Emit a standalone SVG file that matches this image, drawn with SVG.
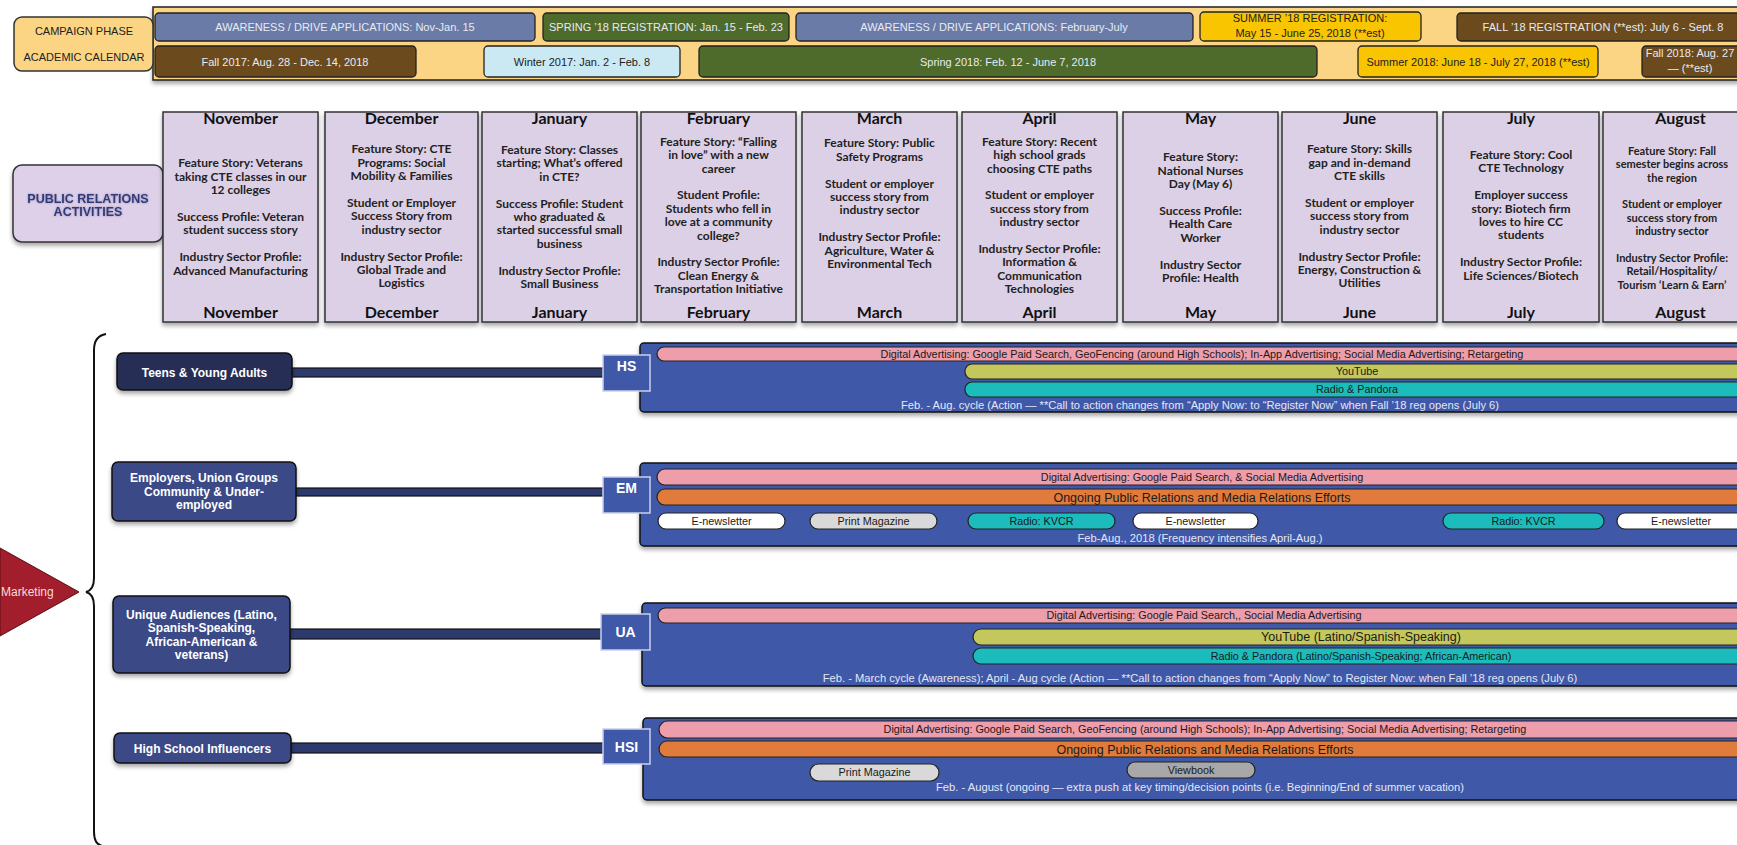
<svg xmlns="http://www.w3.org/2000/svg" width="1737" height="845" viewBox="0 0 1737 845">
<defs>
<filter id="sh" x="-5%" y="-20%" width="110%" height="150%"><feDropShadow dx="0" dy="3" stdDeviation="2" flood-color="#000" flood-opacity="0.35"/></filter>
<filter id="glow" x="-10%" y="-50%" width="120%" height="200%"><feDropShadow dx="0" dy="0" stdDeviation="1.2" flood-color="#8a7fb0" flood-opacity="0.9"/></filter>
<style>
text{font-family:'Liberation Sans',Arial,sans-serif;text-anchor:middle}
.band{font-size:11px}
.lt{fill:#e8eaf2}
.dk{fill:#222}
.ph{stroke:#222;stroke-width:1.3}
.mon{fill:#dcd0e6;stroke:#333;stroke-width:1.5}
.mt{font-family:Lato,'Liberation Sans',sans-serif;font-weight:700;font-size:16px;fill:#111}
.mb{font-family:Lato,'Liberation Sans',sans-serif;font-weight:700;font-size:12px;fill:#222}
.aud{stroke:#111;stroke-width:1.5}
.at{font-weight:700;font-size:12px;fill:#fff}
.tag{fill:#3f58a8;stroke:#c9d0ea;stroke-width:1.5}
.tt{font-weight:700;font-size:14px;fill:#fff}
.panel{fill:#3f58a8;stroke:#111;stroke-width:1.5}
.pk{fill:#ee9dab;stroke:#222;stroke-width:1.2}
.ol{fill:#c3c75c;stroke:#222;stroke-width:1.2}
.tl{fill:#1cbcbc;stroke:#222;stroke-width:1.2}
.or{fill:#e07b3b;stroke:#222;stroke-width:1.2}
.wh{fill:#fff;stroke:#222;stroke-width:1.2}
.gr{fill:#d9d9d9;stroke:#222;stroke-width:1.2}
.gr2{fill:#a8a8a8;stroke:#222;stroke-width:1.2}
.bt{font-size:10.8px;fill:#1a1a1a}
.ot{font-size:12.5px;fill:#1a1a1a}
.ft{font-size:11.2px;fill:#e3e7f5}
.conn{fill:#2d3a6e;stroke:#111;stroke-width:1.2}
</style>
</defs>
<rect width="1737" height="845" fill="#fff"/>

<g id="calendar-band">
<rect x="153" y="7" width="1600" height="73" fill="#fbd584" stroke="#222" stroke-width="1.5" filter="url(#sh)"/>
</g>
<g id="label-campaign">
<rect x="14" y="17" width="139" height="54" rx="8" fill="#fbd584" stroke="#333" stroke-width="1.5"/>
<text class="band dk" x="84" y="35">CAMPAIGN PHASE</text>
<text class="band dk" x="84" y="61">ACADEMIC CALENDAR</text>
</g>
<g id="phase-awareness1"><rect class="ph" x="155" y="13" width="380" height="28" rx="4" fill="#6a7ba8"/><text class="band lt" x="345" y="31">AWARENESS / DRIVE APPLICATIONS: Nov-Jan. 15</text></g>
<g id="phase-spring-reg"><rect class="ph" x="543" y="13" width="246" height="28" rx="4" fill="#4e6b2b"/><text class="band lt" x="666" y="31">SPRING ’18 REGISTRATION:  Jan. 15 - Feb. 23</text></g>
<g id="phase-awareness2"><rect class="ph" x="796" y="13" width="397" height="28" rx="4" fill="#6a7ba8"/><text class="band lt" x="994" y="31">AWARENESS / DRIVE APPLICATIONS: February-July</text></g>
<g id="phase-summer-reg"><rect class="ph" x="1200" y="12" width="221" height="29" rx="4" fill="#f9c400"/><text class="band dk" x="1310" y="22">SUMMER ’18 REGISTRATION:</text><text class="band dk" x="1310" y="37">May 15 - June 25, 2018 (**est)</text></g>
<g id="phase-fall-reg"><rect class="ph" x="1457" y="13" width="300" height="28" rx="4" fill="#6b4a1d"/><text class="band lt" x="1603" y="31">FALL ’18 REGISTRATION (**est): July 6  - Sept. 8</text></g>
<g id="cal-fall2017"><rect class="ph" x="155" y="46" width="261" height="31" rx="4" fill="#6b4a1d"/><text class="band lt" x="285" y="65.5">Fall 2017:  Aug. 28 - Dec. 14, 2018</text></g>
<g id="cal-winter2017"><rect class="ph" x="484" y="46" width="196" height="31" rx="4" fill="#cbe9f3"/><text class="band dk" x="582" y="65.5">Winter 2017:  Jan. 2 - Feb. 8</text></g>
<g id="cal-spring2018"><rect class="ph" x="699" y="46" width="618" height="31" rx="4" fill="#4e6b2b"/><text class="band lt" x="1008" y="65.5">Spring 2018: Feb. 12 - June 7, 2018</text></g>
<g id="cal-summer2018"><rect class="ph" x="1358" y="46" width="240" height="31" rx="4" fill="#f9c400"/><text class="band dk" x="1478" y="65.5">Summer  2018: June 18 - July 27, 2018 (**est)</text></g>
<g id="cal-fall2018"><rect class="ph" x="1642" y="46" width="120" height="31" rx="4" fill="#6b4a1d"/><text class="band lt" x="1690" y="57">Fall 2018: Aug. 27</text><text class="band lt" x="1690" y="72">— (**est)</text></g>

<g id="pr-activities">
<rect x="13" y="165" width="150" height="77" rx="9" fill="#ddd0e8" stroke="#333" stroke-width="1.5" filter="url(#sh)"/>
<g filter="url(#glow)">
<text x="88" y="202.5" font-weight="700" font-size="12.5" fill="#2e3a78">PUBLIC RELATIONS</text>
<text x="88" y="215.5" font-weight="700" font-size="12.5" fill="#2e3a78">ACTIVITIES</text>
</g>
</g>

<g id="month-nov"><rect class="mon" x="163" y="112" width="155" height="210" filter="url(#sh)"/><text class="mt" x="240.5" y="124">November</text><text class="mt" x="240.5" y="318">November</text>
<text class="mb" y="167.3"><tspan x="240.5">Feature Story:  Veterans</tspan><tspan x="240.5" dy="13.4">taking CTE classes in our</tspan><tspan x="240.5" dy="13.4">12 colleges</tspan><tspan x="240.5" dy="26.8">Success Profile:  Veteran</tspan><tspan x="240.5" dy="13.4">student success story</tspan><tspan x="240.5" dy="26.8">Industry Sector Profile:</tspan><tspan x="240.5" dy="13.4">Advanced Manufacturing</tspan></text></g>
<g id="month-dec"><rect class="mon" x="325" y="112" width="153" height="210" filter="url(#sh)"/><text class="mt" x="401.5" y="124">December</text><text class="mt" x="401.5" y="318">December</text>
<text class="mb" y="153.3"><tspan x="401.5">Feature Story:  CTE</tspan><tspan x="401.5" dy="13.4">Programs: Social</tspan><tspan x="401.5" dy="13.4">Mobility &amp; Families</tspan><tspan x="401.5" dy="26.8">Student or Employer</tspan><tspan x="401.5" dy="13.4">Success Story from</tspan><tspan x="401.5" dy="13.4">industry sector</tspan><tspan x="401.5" dy="26.8">Industry Sector Profile:</tspan><tspan x="401.5" dy="13.4">Global Trade and</tspan><tspan x="401.5" dy="13.4">Logistics</tspan></text></g>
<g id="month-jan"><rect class="mon" x="482" y="112" width="155" height="210" filter="url(#sh)"/><text class="mt" x="559.5" y="124">January</text><text class="mt" x="559.5" y="318">January</text>
<text class="mb" y="154"><tspan x="559.5">Feature Story: Classes</tspan><tspan x="559.5" dy="13.4">starting; What’s offered</tspan><tspan x="559.5" dy="13.4">in CTE?</tspan><tspan x="559.5" dy="26.8">Success Profile:  Student</tspan><tspan x="559.5" dy="13.4">who graduated &amp;</tspan><tspan x="559.5" dy="13.4">started successful small</tspan><tspan x="559.5" dy="13.4">business</tspan><tspan x="559.5" dy="26.8">Industry Sector Profile:</tspan><tspan x="559.5" dy="13.4">Small Business</tspan></text></g>
<g id="month-feb"><rect class="mon" x="641" y="112" width="155" height="210" filter="url(#sh)"/><text class="mt" x="718.5" y="124">February</text><text class="mt" x="718.5" y="318">February</text>
<text class="mb" y="145.7"><tspan x="718.5">Feature Story: “Falling</tspan><tspan x="718.5" dy="13.4">in love” with a new</tspan><tspan x="718.5" dy="13.4">career</tspan><tspan x="718.5" dy="26.8">Student Profile:</tspan><tspan x="718.5" dy="13.4">Students who fell in</tspan><tspan x="718.5" dy="13.4">love at a community</tspan><tspan x="718.5" dy="13.4">college?</tspan><tspan x="718.5" dy="26.8">Industry Sector Profile:</tspan><tspan x="718.5" dy="13.4">Clean Energy &amp;</tspan><tspan x="718.5" dy="13.4">Transportation Initiative</tspan></text></g>
<g id="month-mar"><rect class="mon" x="802" y="112" width="155" height="210" filter="url(#sh)"/><text class="mt" x="879.5" y="124">March</text><text class="mt" x="879.5" y="318">March</text>
<text class="mb" y="147.3"><tspan x="879.5">Feature Story:  Public</tspan><tspan x="879.5" dy="13.4">Safety Programs</tspan><tspan x="879.5" dy="26.8">Student or employer</tspan><tspan x="879.5" dy="13.4">success story from</tspan><tspan x="879.5" dy="13.4">industry sector</tspan><tspan x="879.5" dy="26.8">Industry Sector Profile:</tspan><tspan x="879.5" dy="13.4">Agriculture, Water &amp;</tspan><tspan x="879.5" dy="13.4">Environmental Tech</tspan></text></g>
<g id="month-apr"><rect class="mon" x="962" y="112" width="155" height="210" filter="url(#sh)"/><text class="mt" x="1039.5" y="124">April</text><text class="mt" x="1039.5" y="318">April</text>
<text class="mb" y="145.7"><tspan x="1039.5">Feature Story:  Recent</tspan><tspan x="1039.5" dy="13.4">high school grads</tspan><tspan x="1039.5" dy="13.4">choosing CTE paths</tspan><tspan x="1039.5" dy="26.8">Student or employer</tspan><tspan x="1039.5" dy="13.4">success story from</tspan><tspan x="1039.5" dy="13.4">industry sector</tspan><tspan x="1039.5" dy="26.8">Industry Sector Profile:</tspan><tspan x="1039.5" dy="13.4">Information &amp;</tspan><tspan x="1039.5" dy="13.4">Communication</tspan><tspan x="1039.5" dy="13.4">Technologies</tspan></text></g>
<g id="month-may"><rect class="mon" x="1123" y="112" width="155" height="210" filter="url(#sh)"/><text class="mt" x="1200.5" y="124">May</text><text class="mt" x="1200.5" y="318">May</text>
<text class="mb" y="161.3"><tspan x="1200.5">Feature Story:</tspan><tspan x="1200.5" dy="13.4">National Nurses</tspan><tspan x="1200.5" dy="13.4">Day (May 6)</tspan><tspan x="1200.5" dy="26.8">Success Profile:</tspan><tspan x="1200.5" dy="13.4">Health Care</tspan><tspan x="1200.5" dy="13.4">Worker</tspan><tspan x="1200.5" dy="26.8">Industry Sector</tspan><tspan x="1200.5" dy="13.4">Profile:  Health</tspan></text></g>
<g id="month-jun"><rect class="mon" x="1282" y="112" width="155" height="210" filter="url(#sh)"/><text class="mt" x="1359.5" y="124">June</text><text class="mt" x="1359.5" y="318">June</text>
<text class="mb" y="153.3"><tspan x="1359.5">Feature Story:  Skills</tspan><tspan x="1359.5" dy="13.4">gap and in-demand</tspan><tspan x="1359.5" dy="13.4">CTE skills</tspan><tspan x="1359.5" dy="26.8">Student or employer</tspan><tspan x="1359.5" dy="13.4">success story from</tspan><tspan x="1359.5" dy="13.4">industry sector</tspan><tspan x="1359.5" dy="26.8">Industry Sector Profile:</tspan><tspan x="1359.5" dy="13.4">Energy, Construction &amp;</tspan><tspan x="1359.5" dy="13.4">Utilities</tspan></text></g>
<g id="month-jul"><rect class="mon" x="1443" y="112" width="156" height="210" filter="url(#sh)"/><text class="mt" x="1521" y="124">July</text><text class="mt" x="1521" y="318">July</text>
<text class="mb" y="159"><tspan x="1521">Feature Story: Cool</tspan><tspan x="1521" dy="13.4">CTE Technology</tspan><tspan x="1521" dy="26.8">Employer success</tspan><tspan x="1521" dy="13.4">story:  Biotech firm</tspan><tspan x="1521" dy="13.4">loves to hire CC</tspan><tspan x="1521" dy="13.4">students</tspan><tspan x="1521" dy="26.8">Industry Sector Profile:</tspan><tspan x="1521" dy="13.4">Life Sciences/Biotech</tspan></text></g>
<g id="month-aug"><rect class="mon" x="1603" y="112" width="155" height="210" filter="url(#sh)"/><text class="mt" x="1680.5" y="124">August</text><text class="mt" x="1680.5" y="318">August</text>
<text class="mb" y="154.7" style="font-size:11px"><tspan x="1672">Feature Story: Fall</tspan><tspan x="1672" dy="13.4">semester begins across</tspan><tspan x="1672" dy="13.4">the region</tspan><tspan x="1672" dy="26.8">Student or employer</tspan><tspan x="1672" dy="13.4">success story from</tspan><tspan x="1672" dy="13.4">industry sector</tspan><tspan x="1672" dy="26.8">Industry Sector Profile:</tspan><tspan x="1672" dy="13.4">Retail/Hospitality/</tspan><tspan x="1672" dy="13.4">Tourism ‘Learn &amp; Earn’</tspan></text></g>

<g id="marketing">
<polygon points="0,548 79,592 0,636" fill="#a31e2c" stroke="#5a0d14" stroke-width="1"/>
<text x="1" y="596" font-size="12" fill="#f5dada" style="text-anchor:start">Marketing</text>
</g>
<g id="brace">
<path d="M106,334 Q94,336 94,350 L94,578 Q94,590 86,592 Q94,594 94,606 L94,832 Q94,844 102,846" fill="none" stroke="#111" stroke-width="2"/>
</g>

<g id="connectors">
<rect class="conn" x="292" y="368" width="312" height="9" fill="#262f57"/>
<rect class="conn" x="296" y="488" width="308" height="8"/>
<rect class="conn" x="290" y="629" width="312" height="10"/>
<rect class="conn" x="291" y="743" width="313" height="10"/>
</g>

<g id="aud-teens"><rect class="aud" x="117" y="353" width="175" height="37" rx="6" fill="#262f57" filter="url(#sh)"/><text class="at" x="204.5" y="376.5">Teens &amp; Young Adults</text></g>
<g id="aud-employers"><rect class="aud" x="112" y="462" width="184" height="59" rx="6" fill="#3a4a87" filter="url(#sh)"/><text class="at" x="204" y="482">Employers, Union Groups</text><text class="at" x="204" y="496">Community &amp; Under-</text><text class="at" x="204" y="509">employed</text></g>
<g id="aud-unique"><rect class="aud" x="113" y="596" width="177" height="77" rx="6" fill="#3a4a87" filter="url(#sh)"/><text class="at" x="201.5" y="618.5">Unique Audiences (Latino,</text><text class="at" x="201.5" y="632">Spanish-Speaking,</text><text class="at" x="201.5" y="645.5">African-American &amp;</text><text class="at" x="201.5" y="659">veterans)</text></g>
<g id="aud-hsi"><rect class="aud" x="114" y="733" width="177" height="30" rx="6" fill="#3a4a87" filter="url(#sh)"/><text class="at" x="202.5" y="752.5">High School Influencers</text></g>

<g id="panel-hs">
<rect class="panel" x="640" y="343" width="1120" height="69" rx="4" filter="url(#sh)"/>
<rect class="pk" x="657" y="347" width="1092" height="14" rx="7"/><text class="bt" x="1202" y="357.8">Digital Advertising:  Google Paid Search, GeoFencing (around High Schools); In-App Advertising; Social Media Advertising; Retargeting</text>
<rect class="ol" x="965" y="364" width="785" height="15" rx="7"/><text class="bt" x="1357" y="375.3">YouTube</text>
<rect class="tl" x="965" y="382" width="785" height="15" rx="7"/><text class="bt" x="1357" y="393.3">Radio &amp; Pandora</text>
<text class="ft" x="1200" y="409">Feb. - Aug.  cycle (Action — **Call to action changes from “Apply Now: to “Register Now” when Fall ’18 reg opens (July 6)</text>
</g>
<g id="tag-hs"><rect class="tag" x="603" y="355" width="47" height="36"/><text class="tt" x="626.5" y="371">HS</text></g>

<g id="panel-em">
<rect class="panel" x="640" y="463" width="1120" height="83" rx="4" filter="url(#sh)"/>
<rect class="pk" x="657" y="469" width="1092" height="16" rx="8"/><text class="bt" x="1202" y="480.8">Digital Advertising:  Google Paid Search, &amp; Social Media Advertising</text>
<rect class="or" x="657" y="489" width="1092" height="16" rx="8"/><text class="ot" x="1202" y="501.5">Ongoing Public Relations and Media Relations Efforts</text>
<rect class="wh" x="658" y="513" width="127" height="16" rx="8"/><text class="bt" x="721.5" y="524.8">E-newsletter</text>
<rect class="gr" x="810" y="513" width="127" height="16" rx="8"/><text class="bt" x="873.5" y="524.8">Print Magazine</text>
<rect class="tl" x="968" y="513" width="147" height="16" rx="8"/><text class="bt" x="1041.5" y="524.8">Radio: KVCR</text>
<rect class="wh" x="1133" y="513" width="125" height="16" rx="8"/><text class="bt" x="1195.5" y="524.8">E-newsletter</text>
<rect class="tl" x="1443" y="513" width="161" height="16" rx="8"/><text class="bt" x="1523.5" y="524.8">Radio: KVCR</text>
<rect class="wh" x="1617" y="513" width="128" height="16" rx="8"/><text class="bt" x="1681" y="524.8">E-newsletter</text>
<text class="ft" x="1200" y="541.5">Feb-Aug., 2018 (Frequency intensifies April-Aug.)</text>
</g>
<g id="tag-em"><rect class="tag" x="603" y="477" width="47" height="36"/><text class="tt" x="626.5" y="493">EM</text></g>

<g id="panel-ua">
<rect class="panel" x="642" y="603" width="1118" height="83" rx="4" filter="url(#sh)"/>
<rect class="pk" x="658" y="608" width="1092" height="15" rx="7.5"/><text class="bt" x="1204" y="619.3">Digital Advertising:  Google Paid Search,, Social Media Advertising</text>
<rect class="ol" x="973" y="629" width="777" height="16" rx="8"/><text class="ot" x="1361" y="641.3">YouTube (Latino/Spanish-Speaking)</text>
<rect class="tl" x="973" y="648" width="777" height="16" rx="8"/><text class="bt" x="1361" y="659.8">Radio &amp; Pandora (Latino/Spanish-Speaking; African-American)</text>
<text class="ft" x="1200" y="682">Feb. - March cycle (Awareness);  April -  Aug cycle (Action — **Call to action changes from “Apply Now” to Register Now: when Fall ’18 reg opens (July 6)</text>
</g>
<g id="tag-ua"><rect class="tag" x="601" y="614" width="49" height="36"/><text class="tt" x="625.5" y="637">UA</text></g>

<g id="panel-hsi">
<rect class="panel" x="643" y="718" width="1117" height="82" rx="4" filter="url(#sh)"/>
<rect class="pk" x="659" y="721" width="1092" height="17" rx="8.5"/><text class="bt" x="1205" y="733.3">Digital Advertising:  Google Paid Search, GeoFencing (around High Schools); In-App Advertising; Social Media Advertising; Retargeting</text>
<rect class="or" x="659" y="741" width="1092" height="16" rx="8"/><text class="ot" x="1205" y="753.5">Ongoing Public Relations and Media Relations Efforts</text>
<rect class="gr" x="810" y="764" width="129" height="17" rx="8.5"/><text class="bt" x="874.5" y="776.3">Print Magazine</text>
<rect class="gr2" x="1127" y="762" width="128" height="16" rx="8"/><text class="bt" x="1191" y="773.8">Viewbook</text>
<text class="ft" x="1200" y="791">Feb. - August (ongoing — extra push at key timing/decision points (i.e. Beginning/End of summer vacation)</text>
</g>
<g id="tag-hsi"><rect class="tag" x="603" y="729" width="47" height="35"/><text class="tt" x="626.5" y="752">HSI</text></g>
</svg>
